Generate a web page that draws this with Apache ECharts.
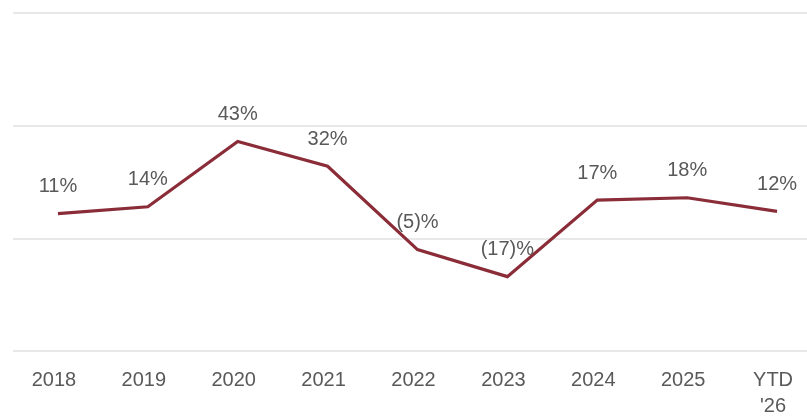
<!DOCTYPE html>
<html>
<head>
<meta charset="utf-8">
<script src="https://cdn.jsdelivr.net/npm/echarts@6/dist/echarts.min.js"></script>
<style>
  html, body { margin: 0; padding: 0; background: #ffffff; overflow: hidden; }
  /* canvas is a bit wider than the window so the last column is cut off at the edge */
  #chart { width: 822px; height: 419px; }
</style>
</head>
<body>
<div id="chart"></div>
<script>
// Annual return by year, percent
const categories = ['2018', '2019', '2020', '2021', '2022', '2023', '2024', '2025', "YTD\n'26"];
const returns = [11, 14, 43, 32, -5, -17, 17, 18, 12];

// Value axis range (labels hidden, gridlines only)
const yMin = -50;
const yMax = 100;
const yStep = 50;

function pct(v) {
  return v < 0 ? '(' + Math.abs(v) + ')%' : v + '%';
}

const chart = echarts.init(document.getElementById('chart'), null, { renderer: 'canvas' });

chart.setOption({
  animation: false,
  backgroundColor: '#ffffff',
  grid: { left: 13, right: 0, top: 13, bottom: 66, containLabel: false },
  xAxis: {
    type: 'category',
    data: categories,
    boundaryGap: true,
    axisLine: { show: false },
    axisTick: { show: false },
    axisLabel: {
      color: '#595959',
      fontFamily: 'Liberation Sans, Arial, sans-serif',
      fontSize: 20,
      lineHeight: 26,
      margin: 16,
      padding: [0, 8, 0, 0],
      interval: 0
    }
  },
  yAxis: {
    type: 'value',
    min: yMin,
    max: yMax,
    interval: yStep,
    axisLine: { show: false },
    axisTick: { show: false },
    axisLabel: { show: false },
    splitLine: { show: true, lineStyle: { color: '#e0e0e0', width: 1.5 } }
  },
  series: [{
    type: 'line',
    data: returns,
    showSymbol: true,
    symbol: 'circle',
    symbolSize: 0,
    lineStyle: { color: '#8a2d38', width: 3.2, join: 'miter' },
    itemStyle: { color: '#8a2d38' },
    label: {
      show: true,
      position: 'top',
      distance: 17,
      color: '#595959',
      fontFamily: 'Liberation Sans, Arial, sans-serif',
      fontSize: 20,
      formatter: p => pct(p.value)
    }
  }]
});
</script>
</body>
</html>
